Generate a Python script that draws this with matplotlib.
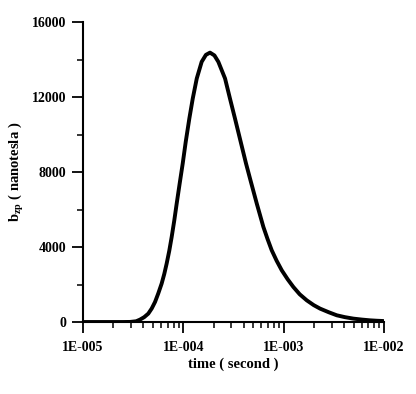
import numpy as np
import matplotlib.pyplot as plt
from matplotlib.ticker import FixedLocator, LogLocator, NullFormatter, MultipleLocator

plt.rcParams['font.family'] = ['Liberation Serif', 'DejaVu Serif']
plt.rcParams['mathtext.fontset'] = 'custom'
plt.rcParams['mathtext.rm'] = 'Liberation Serif:bold'
plt.rcParams['mathtext.bf'] = 'Liberation Serif:bold'
plt.rcParams['mathtext.it'] = 'Liberation Serif:bold'

# curve: log10(time) and b_zp in nanotesla
log_t = [-5.0, -4.8, -4.6, -4.53, -4.47, -4.432, -4.39, -4.349, -4.315, -4.282, -4.25,
         -4.216, -4.19, -4.166, -4.14, -4.116, -4.09, -4.066, -4.036, -4.006, -3.976,
         -3.94, -3.906, -3.866, -3.817, -3.775, -3.734, -3.69, -3.651, -3.584, -3.535,
         -3.485, -3.428, -3.375, -3.33, -3.268, -3.235, -3.202, -3.16, -3.119, -3.07,
         -3.019, -2.96, -2.903, -2.84, -2.77, -2.70, -2.637, -2.55, -2.47, -2.39,
         -2.305, -2.22, -2.139, -2.07, -2.006]
bzp = [0, 0, 0, 5, 40, 128, 260, 448, 720, 1068, 1520,
       2050, 2560, 3118, 3800, 4538, 5420, 6321, 7400, 8455, 9610,
       10855, 11920, 12990, 13880, 14250, 14370, 14220, 13880, 12990, 11920,
       10855, 9610, 8455, 7550, 6321, 5697, 5072, 4420, 3828, 3270,
       2760, 2280, 1868, 1480, 1158, 900, 715, 520, 358, 260,
       181, 130, 90, 68, 53]

t = 10.0 ** np.array(log_t)

fig = plt.figure(figsize=(4.16, 3.94), dpi=100)
ax = fig.add_axes([0.1995, 0.1827, 0.7235, 0.7613])

ax.plot(t, bzp, color='black', lw=2.8, solid_capstyle='round', solid_joinstyle='round')

ax.set_xscale('log')
ax.set_xlim(1e-5, 1e-2)
ax.set_ylim(0, 16000)

ax.spines['top'].set_visible(False)
ax.spines['right'].set_visible(False)
for s in ('left', 'bottom'):
    ax.spines[s].set_linewidth(1.5)

ax.xaxis.set_major_locator(FixedLocator([1e-5, 1e-4, 1e-3, 1e-2]))
ax.set_xticklabels(['1E-005', '1E-004', '1E-003', '1E-002'])
ax.xaxis.set_minor_locator(LogLocator(base=10, subs=np.arange(2, 10)))
ax.xaxis.set_minor_formatter(NullFormatter())
ax.yaxis.set_major_locator(MultipleLocator(4000))
ax.yaxis.set_minor_locator(MultipleLocator(2000))

ax.tick_params(which='major', length=8, width=1.3, labelsize=10, direction='out', pad=4)
ax.tick_params(axis='x', which='major', pad=6)
ax.tick_params(which='minor', length=4.5, width=1.1, direction='out')
for lab in ax.get_xticklabels() + ax.get_yticklabels():
    lab.set_fontweight('bold')

ax.set_xlabel('time ( second )', fontsize=10.5, fontweight='bold', labelpad=2)
ax.set_ylabel(r'$\mathbf{b_{zp}}$ ( nanotesla )', fontsize=10.5, fontweight='bold', labelpad=4)

fig.savefig('out.png', dpi=100)
